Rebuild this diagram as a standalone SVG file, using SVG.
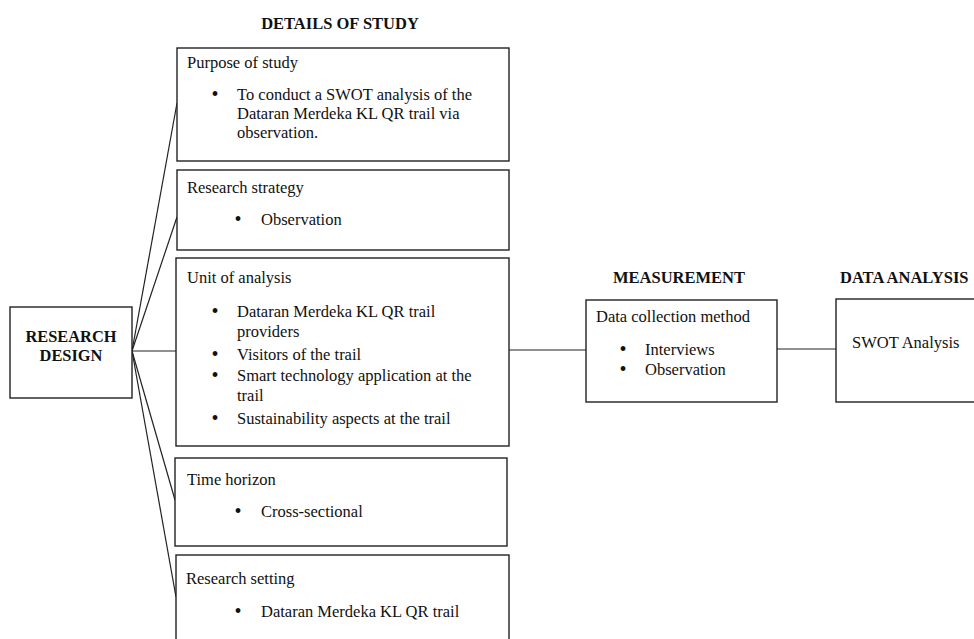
<svg xmlns="http://www.w3.org/2000/svg" width="974" height="639" viewBox="0 0 974 639">
<style>
text{font-family:"Liberation Serif","Times New Roman",serif;fill:#111;font-size:16.5px}
.h{font-weight:bold;font-size:16.5px}
.b{font-weight:bold;font-size:16.4px}
.d{font-size:20px}
.box{fill:#fff;stroke:#222;stroke-width:1.4}
.c{stroke:#222;stroke-width:1.2;fill:none}
</style>
<rect width="974" height="639" fill="#fff"/>
<text class="h" x="340" y="29" text-anchor="middle">DETAILS OF STUDY</text>
<text class="h" x="679" y="283" text-anchor="middle">MEASUREMENT</text>
<text class="h" x="840" y="283">DATA ANALYSIS</text>
<g id="connectors">
<line class="c" x1="132" y1="351" x2="177" y2="103"/>
<line class="c" x1="132" y1="351" x2="177" y2="217"/>
<line class="c" x1="132" y1="351" x2="176" y2="351"/>
<line class="c" x1="132" y1="351" x2="175" y2="500"/>
<line class="c" x1="132" y1="351" x2="176" y2="597"/>
<line class="c" x1="509" y1="350" x2="586" y2="350"/>
<line class="c" x1="777" y1="349" x2="836" y2="349"/>
</g>
<g id="research-design">
<rect class="box" x="10" y="307" width="122" height="91"/>
<text class="b" x="71" y="342" text-anchor="middle">RESEARCH</text>
<text class="b" x="71" y="361" text-anchor="middle">DESIGN</text>
</g>
<g id="purpose">
<rect class="box" x="177" y="48" width="332" height="113"/>
<text x="187" y="68">Purpose of study</text>
<text class="d" x="211.5" y="101">•</text>
<text x="237" y="100">To conduct a SWOT analysis of the</text>
<text x="237" y="119">Dataran Merdeka KL QR trail via</text>
<text x="237" y="138">observation.</text>
</g>
<g id="strategy">
<rect class="box" x="177" y="170" width="332" height="80"/>
<text x="187" y="193">Research strategy</text>
<text class="d" x="234.5" y="226">•</text>
<text x="261" y="225">Observation</text>
</g>
<g id="unit">
<rect class="box" x="176" y="258" width="333" height="188"/>
<text x="187" y="283">Unit of analysis</text>
<text class="d" x="211.5" y="318">•</text>
<text x="237" y="317">Dataran Merdeka KL QR trail</text>
<text x="237" y="337">providers</text>
<text class="d" x="211.5" y="361">•</text>
<text x="237" y="360">Visitors of the trail</text>
<text class="d" x="211.5" y="382">•</text>
<text x="237" y="381">Smart technology application at the</text>
<text x="237" y="401">trail</text>
<text class="d" x="211.5" y="425">•</text>
<text x="237" y="424">Sustainability aspects at the trail</text>
</g>
<g id="time">
<rect class="box" x="175" y="458" width="332" height="88"/>
<text x="187" y="485">Time horizon</text>
<text class="d" x="234.5" y="518">•</text>
<text x="261" y="517">Cross-sectional</text>
</g>
<g id="setting">
<rect class="box" x="176" y="555" width="333" height="100"/>
<text x="186" y="584">Research setting</text>
<text class="d" x="234.5" y="618">•</text>
<text x="261" y="617">Dataran Merdeka KL QR trail</text>
</g>
<g id="measurement">
<rect class="box" x="586" y="300" width="191" height="102"/>
<text x="596" y="322">Data collection method</text>
<text class="d" x="619.5" y="356">•</text>
<text x="645" y="355">Interviews</text>
<text class="d" x="619.5" y="376">•</text>
<text x="645" y="375">Observation</text>
</g>
<g id="data-analysis">
<rect class="box" x="836" y="299" width="145" height="103"/>
<text x="852" y="348">SWOT Analysis</text>
</g>
</svg>
